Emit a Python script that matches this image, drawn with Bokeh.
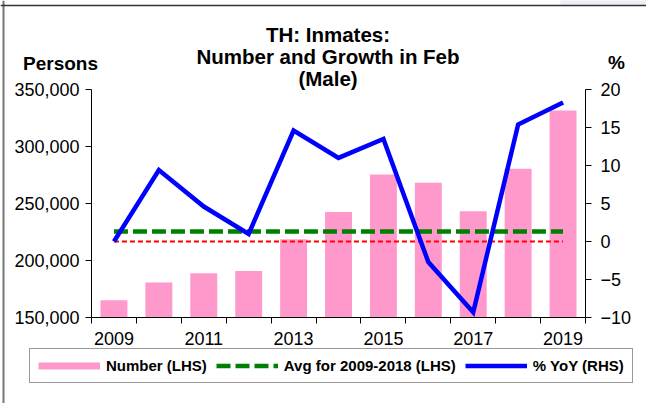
from bokeh.plotting import figure
from bokeh.models import (Range1d, LinearAxis, FixedTicker, NumeralTickFormatter,
                          Legend, LegendItem, Label, ColumnDataSource, Span, BoxAnnotation)
from bokeh.embed import file_html
from bokeh.resources import INLINE

# ---- data ----
years = [2009, 2010, 2011, 2012, 2013, 2014, 2015, 2016, 2017, 2018, 2019]
number = [165200, 180700, 188800, 190800, 218600, 242500, 275500, 268300, 243100, 280500, 331600]
yoy = [0.0, 9.4, 4.6, 1.0, 14.6, 11.0, 13.5, -2.7, -9.3, 15.4, 18.3]
avg_years = [2009, 2010, 2011, 2012, 2013, 2014, 2015, 2016, 2017, 2018]
label_years = [2009, 2011, 2013, 2015, 2017, 2019]
left_ticks = [150000, 200000, 250000, 300000, 350000]
right_ticks = [-10, -5, 0, 5, 10, 15, 20]
title_lines = ["TH: Inmates:", "Number and Growth in Feb", "(Male)"]
left_caption = "Persons"
right_caption = "%"
legend_labels = ["Number (LHS)", "Avg for 2009-2018 (LHS)", "% YoY (RHS)"]

avg_val = sum(n for y, n in zip(years, number) if y in avg_years) / len(avg_years)

FONT = "Liberation Sans"
PINK = "#FF99CC"
GREEN = "#008000"
BLUE = "#0000FF"
RED = "#FF0000"

# ---- layout geometry (pixels) ----
W, H = 646, 403
PL, PR, PT, PB = 91, 585, 89, 317   # plot-area edges

x0, x1 = years[0] - 0.5, years[-1] + 0.5
y0, y1 = left_ticks[0], left_ticks[-1]
r0, r1 = right_ticks[0], right_ticks[-1]
xs = (PR - PL) / (x1 - x0)
ys = (PB - PT) / (y1 - y0)
rs = (PB - PT) / (r1 - r0)

def px_x(px):
    return x0 + (px - PL) / xs

def px_y(py):
    return y0 + (PB - py) / ys

p = figure(width=W, height=H, output_backend="svg", toolbar_location=None,
           x_range=Range1d(x0 - PL / xs, x1 + (W - PR) / xs),
           y_range=Range1d(y0 - (H - PB) / ys, y1 + PT / ys),
           min_border=0, min_border_left=0, min_border_right=0,
           min_border_top=0, min_border_bottom=0)
p.extra_y_ranges = {"pct": Range1d(r0 - (H - PB) / rs, r1 + PT / rs)}
p.outline_line_color = None
p.xgrid.visible = False
p.ygrid.visible = False
p.background_fill_color = "white"
p.border_fill_color = "white"

src = ColumnDataSource(dict(year=years, number=number, yoy=yoy,
                            avg=[avg_val] * len(years), zero=[0] * len(years),
                            blank=[float("nan")] * len(years)))

bars = p.vbar(x="year", top="number", bottom=y0, width=0.6, source=src,
              fill_color=PINK, line_color=None)
red = p.line(x="year", y="zero", source=src, y_range_name="pct", line_color=RED,
             line_width=2, line_dash="5 3")
green = p.line(x="year", y="avg", source=src, line_color=GREEN, line_width=4.5,
               line_dash="14 5")
blue = p.line(x="year", y="yoy", source=src, y_range_name="pct", line_color=BLUE,
              line_width=4.5, line_join="miter")
# legend swatch for the bars (draws nothing in the plot: all-NaN y)
pink_leg = p.line(x="year", y="blank", source=src, line_color=PINK, line_width=7)

# ---- axes ----
xa = p.xaxis[0]
minor = [y - 0.5 for y in years] + [years[-1] + 0.5]
xa.ticker = FixedTicker(ticks=label_years, minor_ticks=minor)
xa.fixed_location = y0
xa.bounds = (x0, x1)
xa.major_tick_out = 6
xa.major_tick_in = 0
xa.minor_tick_out = 6
xa.minor_tick_in = 0
xa.minor_tick_line_color = "black"
xa.major_label_standoff = 8

ya = p.yaxis[0]
ya.ticker = FixedTicker(ticks=left_ticks)
ya.formatter = NumeralTickFormatter(format="0,0")
ya.fixed_location = x0
ya.bounds = (y0, y1)
ya.minor_tick_line_color = None
ya.major_tick_out = 6
ya.major_tick_in = 0
ya.major_label_standoff = 6

ra = LinearAxis(y_range_name="pct", ticker=FixedTicker(ticks=right_ticks))
ra.fixed_location = x1
ra.bounds = (r0, r1)
ra.minor_tick_line_color = None
ra.major_tick_out = 6
ra.major_tick_in = 0
ra.major_label_standoff = 9
p.add_layout(ra, "right")

for ax in [xa, ya, ra]:
    ax.axis_line_color = "black"
    ax.axis_line_width = 1
    ax.major_tick_line_color = "black"
    ax.major_label_text_font = FONT
    ax.major_label_text_font_size = "18px"
    ax.major_label_text_color = "black"
xa.major_tick_line_color = None

# ---- chart border ----
p.add_layout(BoxAnnotation(left=px_x(560), right=px_x(W + 5), top=px_y(-5), bottom=px_y(4.5),
                           fill_color="#ECEEF8", fill_alpha=1.0, line_color=None))
p.add_layout(Span(location=px_x(3), dimension="height", line_color="#777777", line_width=2))
p.add_layout(Span(location=px_y(5), dimension="width", line_color="#333333", line_width=1.5))

# ---- title and captions ----
for txt, cy in zip(title_lines, [34, 56, 78]):
    p.add_layout(Label(x=px_x(327.5), y=px_y(cy), text=txt, text_align="center",
                       text_baseline="middle", text_font=FONT, text_font_style="bold",
                       text_font_size="20.5px", text_color="black"))
p.add_layout(Label(x=px_x(60), y=px_y(63), text=left_caption, text_align="center",
                   text_baseline="middle", text_font=FONT, text_font_style="bold",
                   text_font_size="19px", text_color="black"))
p.add_layout(Label(x=px_x(616), y=px_y(62), text=right_caption, text_align="center",
                   text_baseline="middle", text_font=FONT, text_font_style="bold",
                   text_font_size="19px", text_color="black"))

# ---- legend ----
legend = Legend(items=[LegendItem(label=legend_labels[0], renderers=[pink_leg]),
                       LegendItem(label=legend_labels[1], renderers=[green]),
                       LegendItem(label=legend_labels[2], renderers=[blue])],
                orientation="horizontal", location=(29, H - 383), margin=0, padding=8,
                spacing=9, label_standoff=6, glyph_width=62, glyph_height=13,
                label_height=13, label_text_font=FONT, label_text_font_style="bold",
                label_text_font_size="15px", label_text_color="black",
                label_text_baseline="middle",
                border_line_color="#333333", border_line_width=1.5,
                background_fill_color="white", background_fill_alpha=1.0)
p.add_layout(legend)

open("out.html", "w").write(file_html(p, INLINE))
